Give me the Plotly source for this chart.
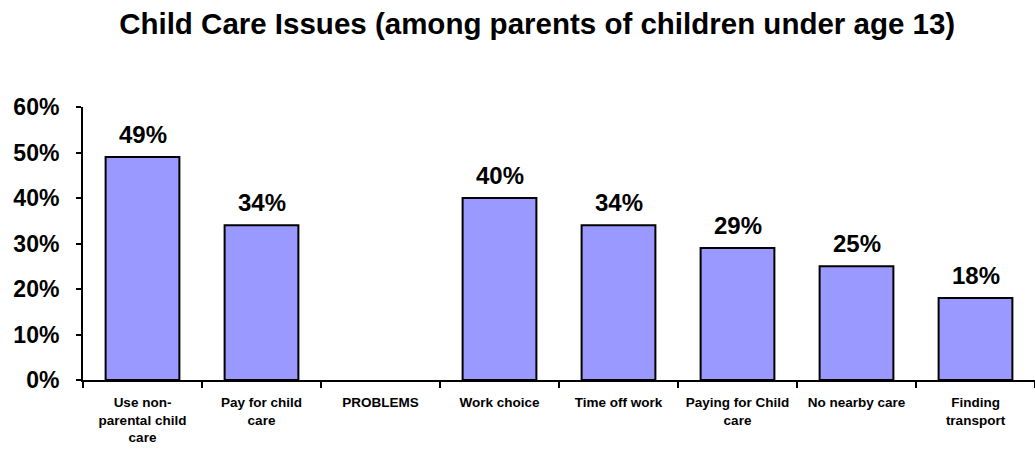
import plotly.graph_objects as go

# Child care survey results (share of parents)
categories = [
    "Use non-<br>parental child<br>care",
    "Pay for child<br>care",
    "PROBLEMS",
    "Work choice",
    "Time off work",
    "Paying for Child<br>care",
    "No nearby care",
    "Finding<br>transport",
]
values = [49, 34, None, 40, 34, 29, 25, 18]
y_ticks = [0, 10, 20, 30, 40, 50, 60]
y_tick_labels = [f"{v}%" for v in y_ticks]

FONT = "Arial, Liberation Sans"

fig = go.Figure(
    go.Bar(
        x=categories,
        y=values,
        width=0.62,
        marker=dict(color="#9999FF", line=dict(color="black", width=2)),
    )
)

# value labels above each bar
for cat, val in zip(categories, values):
    if val is None:
        continue
    fig.add_annotation(
        x=cat, y=val, text=f"{val}%", showarrow=False,
        xref="x", yref="y", yanchor="bottom", yshift=7,
        font=dict(family=FONT, size=24, color="black", weight="bold"),
    )

fig.update_layout(
    width=1035, height=450,
    margin=dict(l=83, r=0, t=107, b=70),
    paper_bgcolor="white", plot_bgcolor="white",
    showlegend=False,
    title=dict(
        text="Child Care Issues (among parents of children under age 13)",
        x=0.519, xanchor="center", y=0.948, yanchor="middle",
        font=dict(family=FONT, size=29.5, color="black", weight="bold"),
    ),
    xaxis=dict(
        type="category",
        showline=True, linecolor="black", linewidth=2,
        ticks="outside", tickson="boundaries", ticklen=6, tickwidth=2, tickcolor="black",
        ticklabelstandoff=9,
        tickfont=dict(family=FONT, size=13.5, color="black", weight="bold"),
        showgrid=False, zeroline=False,
    ),
    yaxis=dict(
        range=[0, 60],
        tickvals=y_ticks, ticktext=y_tick_labels,
        showline=True, linecolor="black", linewidth=2,
        ticks="outside", ticklen=5, tickwidth=2, tickcolor="black",
        ticklabelstandoff=12,
        tickfont=dict(family=FONT, size=23, color="black", weight="bold"),
        showgrid=False, zeroline=False,
    ),
)

fig.write_html("out.html")
